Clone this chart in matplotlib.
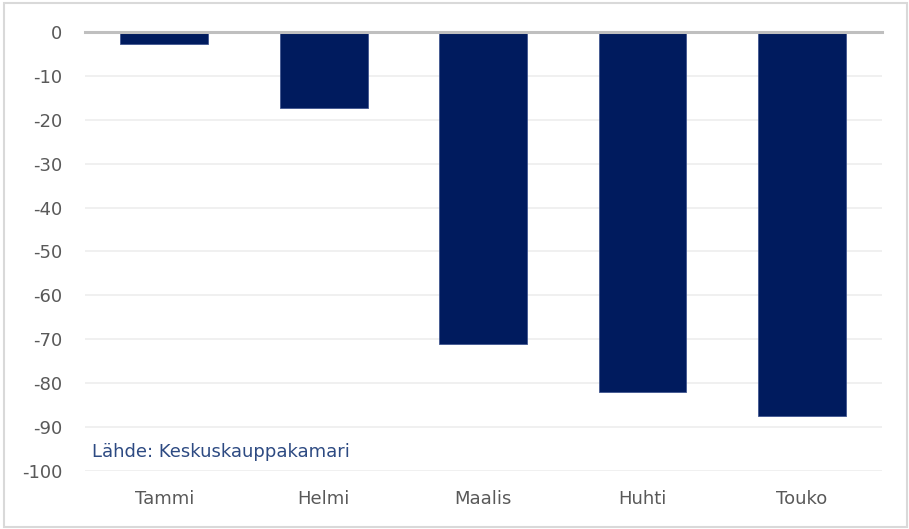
import matplotlib
matplotlib.use("Agg")
import matplotlib.pyplot as plt
from matplotlib.patches import Rectangle

# Monthly change, index points
months = ["Tammi", "Helmi", "Maalis", "Huhti", "Touko"]
values = [-2.7, -17.4, -71.0, -82.0, -87.5]
y_ticks = [0, -10, -20, -30, -40, -50, -60, -70, -80, -90, -100]
source = "Lähde: Keskuskauppakamari"

plt.rcParams["font.family"] = ["DejaVu Sans"]

fig = plt.figure(figsize=(9.09, 5.29), dpi=100)
ax = fig.add_axes([0.093, 0.1096, 0.877, 0.83])

x = range(len(months))
ax.bar(x, values, width=0.55, color="#001b5e", edgecolor="#40568f",
       linewidth=0.6, zorder=3)

ax.set_xlim(-0.5, len(months) - 0.5)
ax.set_ylim(-100, 0)
ax.set_yticks(y_ticks)
ax.set_yticklabels([str(t) for t in y_ticks])
ax.set_xticks(list(x))
ax.set_xticklabels(months)

# light grid, heavier zero line
for t in y_ticks[1:]:
    ax.axhline(t, color="#eeeeee", linewidth=1.2, zorder=1)
ax.axhline(0, color="#bfbfbf", linewidth=2.2, zorder=4, clip_on=False)

for s in ax.spines.values():
    s.set_visible(False)
ax.tick_params(axis="both", length=0, labelsize=13, colors="#595959")
ax.tick_params(axis="y", pad=16)
ax.tick_params(axis="x", pad=14)

ax.text(0.0095, 0.044, source, transform=ax.transAxes, fontsize=13,
        color="#2d4a82", ha="left", va="center")

# outer frame
fig.patches.append(Rectangle((0.0045, 0.004), 0.993, 0.99,
                             transform=fig.transFigure, fill=False,
                             edgecolor="#d9d9d9", linewidth=1.5))

fig.savefig("out.png", dpi=100)
